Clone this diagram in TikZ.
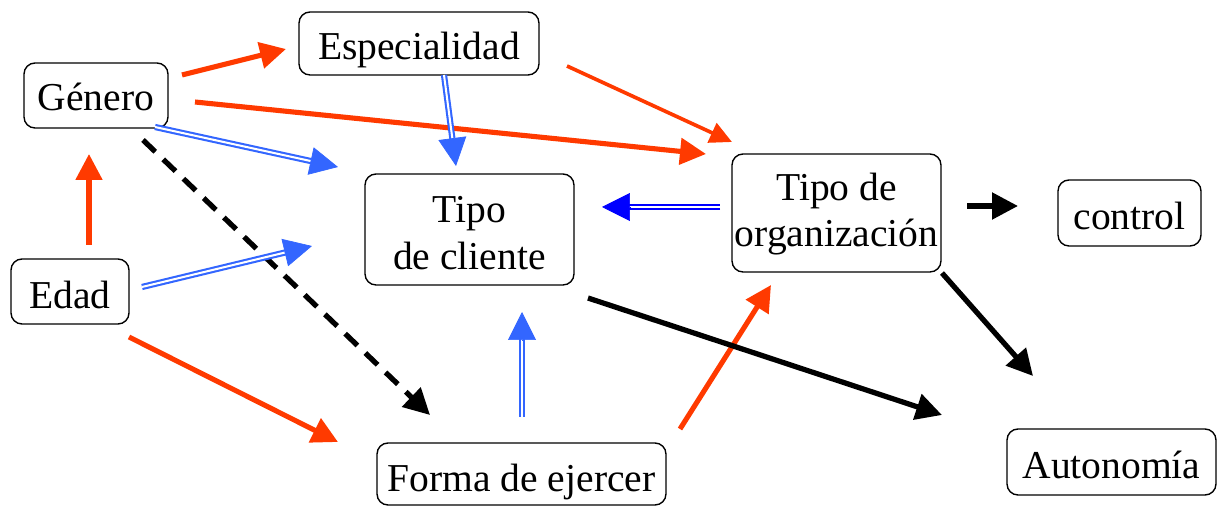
\documentclass[tikz,border=0pt]{standalone}
\usepackage{fontspec}
\setmainfont{Liberation Serif}
\usetikzlibrary{arrows.meta,calc}
\definecolor{cred}{HTML}{FF3A00}
\definecolor{cblue}{HTML}{3366FF}
\definecolor{dblue}{HTML}{0000FF}
\tikzset{
 box/.style={draw=black, line width=0.8pt, rounded corners=0.22cm, inner sep=0pt, align=center, font=\fontsize{22.5}{26.5}\selectfont},
 redarrow/.style={draw=cred, line width=2.9pt, -{Triangle[length=0.52cm,width=0.52cm]}},
 redthin/.style={draw=cred, line width=2.1pt, -{Triangle[length=0.44cm,width=0.42cm]}},
 blackarrow/.style={draw=black, line width=3pt, -{Triangle[length=0.52cm,width=0.52cm]}},
 dashedarrow/.style={blackarrow, dash pattern=on 0.34cm off 0.22cm},
 dblline/.style={draw=#1, double=white, line width=1.2pt, double distance=1.15pt, shorten >=0.55cm},
 dbltip/.style={draw=#1, fill=#1, line width=0.4pt, -{Triangle[length=0.56cm,width=0.56cm]}},
}
% text block whose baselines sit a given amount below the box centre
\newcommand\btxt[2]{\raisebox{0pt}[#1][0pt]{\begin{tabular}{@{}c@{}}#2\end{tabular}}}
\newcommand\dblarrow[3]{\draw[dblline=#1] (#2) -- (#3); \draw[dbltip=#1] ($(#3)!0.56cm!(#2)$) -- (#3);}
\begin{document}
\begin{tikzpicture}[x=0.02cm,y=-0.02cm]
\useasboundingbox (0,0) rectangle (1225,506);
% nodes
\node[box, minimum width=2.88cm, minimum height=1.30cm] (gen) at (96,95.5) {\btxt{16.4pt}{Género}};
\node[box, minimum width=4.80cm, minimum height=1.26cm] (esp) at (419,43.5) {\btxt{17.6pt}{Especialidad}};
\node[box, minimum width=4.18cm, minimum height=2.22cm] (cli) at (469.5,229.5) {\btxt{18.7pt}{Tipo\\de cliente}};
\node[box, minimum width=4.18cm, minimum height=2.36cm] (org) at (836.5,213) {\btxt{11.9pt}{Tipo de\\organización}};
\node[box, minimum width=2.86cm, minimum height=1.32cm] (ctl) at (1129.5,213) {\btxt{18.1pt}{control}};
\node[box, minimum width=2.36cm, minimum height=1.30cm] (edad) at (70,291.5) {\btxt{18.7pt}{Edad}};
\node[box, minimum width=5.78cm, minimum height=1.24cm] (forma) at (521.5,474) {\btxt{20pt}{Forma de ejercer}};
\node[box, minimum width=4.18cm, minimum height=1.32cm] (auto) at (1111.5,462) {\btxt{18.1pt}{Autonomía}};
% connector end points
\coordinate (genesp-s) at (182,75);   \coordinate (genesp-t) at (286,49);
\coordinate (genorg-s) at (195,102);  \coordinate (genorg-t) at (706,154);
\coordinate (esporg-s) at (567,66);   \coordinate (esporg-t) at (732,142);
\coordinate (espcli-s) at (444,75);   \coordinate (espcli-t) at (456,166);
\coordinate (gencli-s) at (155,127);  \coordinate (gencli-t) at (338,167);
\coordinate (edadcli-s) at (142,287); \coordinate (edadcli-t) at (312,246);
\coordinate (genfor-s) at (143,140);  \coordinate (genfor-t) at (430,415);
\coordinate (edadgen-s) at (89,245);  \coordinate (edadgen-t) at (89,154);
\coordinate (edadfor-s) at (129,337); \coordinate (edadfor-t) at (338,442);
\coordinate (forcli-s) at (522,417);  \coordinate (forcli-t) at (522,312);
\coordinate (fororg-s) at (680,429);  \coordinate (fororg-t) at (771,285);
\coordinate (cliaut-s) at (588,298);  \coordinate (cliaut-t) at (942,415);
\coordinate (orgaut-s) at (942,273);  \coordinate (orgaut-t) at (1033,376);
\coordinate (orgctl-s) at (967,206);  \coordinate (orgctl-t) at (1018,206);
\coordinate (orgcli-s) at (720,207);  \coordinate (orgcli-t) at (602,207);
% connectors
\draw[redarrow] (genesp-s) -- (genesp-t);
\draw[redarrow] (genorg-s) -- (genorg-t);
\draw[redthin] (esporg-s) -- (esporg-t);
\draw[redarrow] (edadgen-s) -- (edadgen-t);
\draw[redarrow] (edadfor-s) -- (edadfor-t);
\draw[redarrow] (fororg-s) -- (fororg-t);
\draw[dashedarrow] (genfor-s) -- (genfor-t);
\draw[blackarrow] (cliaut-s) -- (cliaut-t);
\draw[blackarrow] (orgaut-s) -- (orgaut-t);
\draw[blackarrow] (orgctl-s) -- (orgctl-t);
\dblarrow{cblue}{espcli-s}{espcli-t}
\dblarrow{cblue}{gencli-s}{gencli-t}
\dblarrow{cblue}{edadcli-s}{edadcli-t}
\dblarrow{cblue}{forcli-s}{forcli-t}
\dblarrow{dblue}{orgcli-s}{orgcli-t}
\end{tikzpicture}
\end{document}
